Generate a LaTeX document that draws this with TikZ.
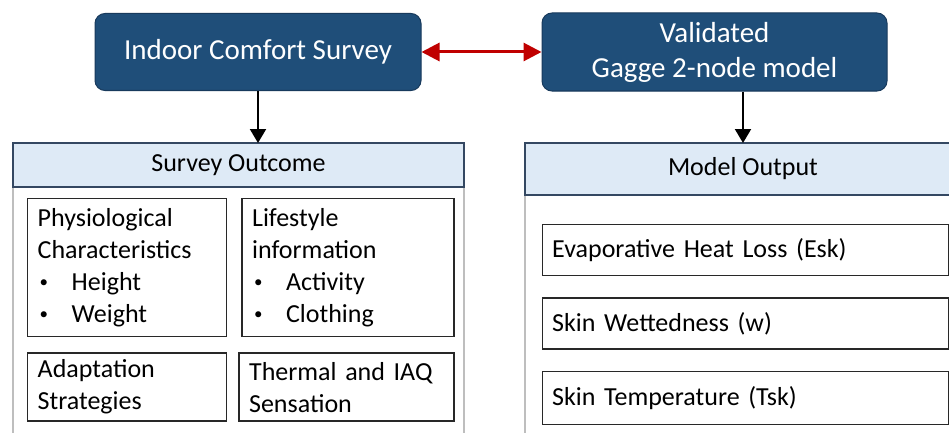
\documentclass[tikz,border=0pt]{standalone}
\usepackage{fontspec}
\setmainfont{Carlito}
\usetikzlibrary{positioning,arrows.meta}
\definecolor{SurveyNavy}{RGB}{31,78,121}
\definecolor{NavyEdge}{RGB}{24,58,92}
\definecolor{HeadBand}{RGB}{222,234,246}
\definecolor{HeadEdge}{RGB}{52,72,98}
\definecolor{PanelGray}{RGB}{190,190,190}
\definecolor{ItemEdge}{RGB}{40,40,40}
\definecolor{LinkRed}{RGB}{192,0,0}
\tikzset{
  flow/.style={-{Triangle[length=14pt,width=16pt]},line width=2pt,draw=black},
  biflow/.style={{Triangle[length=18pt,width=18pt]}-{Triangle[length=18pt,width=18pt]},
    line width=3pt,draw=LinkRed},
  navybox/.style={draw=NavyEdge,fill=SurveyNavy,rounded corners=10pt,line width=1pt,
    text=white,align=center,font=\fontsize{29}{35}\selectfont},
  headbox/.style={draw=HeadEdge,fill=HeadBand,line width=1.2pt,outer sep=0pt,
    align=center,font=\fontsize{26}{32}\selectfont},
  panel/.style={draw=PanelGray,fill=white,line width=1.3pt,outer sep=0pt},
  itembox/.style={draw=ItemEdge,line width=1.4pt,align=left,inner xsep=10pt,
    inner ysep=0pt,font=\fontsize{26}{32}\selectfont}
}
\newcommand{\itemdot}{\makebox[34pt][l]{\hspace{2pt}\raisebox{3pt}{\fontsize{17}{17}\selectfont\textbullet}}}

\begin{document}
\begin{tikzpicture}[x=1pt,y=1pt]
  \clip (0,0) rectangle (949,432);
  \fill[white] (0,0) rectangle (949,432);

  \node[navybox,minimum width=326pt,minimum height=77pt] (survey) at (258,380) {Indoor Comfort Survey};
  \node[navybox,minimum width=345pt,minimum height=78pt] (gagge) at (714.5,380) {Validated\\Gagge 2-node model};
  \draw[biflow] (survey) -- (gagge);

  % survey side
  \node[panel,minimum width=451pt,minimum height=260pt] (outpanel) at (238.5,115) {};
  \node[headbox,minimum width=451pt,minimum height=44pt,above=0pt of outpanel] (outhead) {Survey Outcome};
  \node[itembox,text width=179pt,minimum height=138pt,below right=11pt and 14pt of outpanel.north west] (physio)
    {Physiological\\Characteristics\\\itemdot Height\\\itemdot Weight};
  \node[itembox,text width=192pt,minimum height=138pt,right=14pt of physio] (lifestyle)
    {Lifestyle\\information\\\itemdot Activity\\\itemdot Clothing};
  \node[itembox,text width=179pt,minimum height=68pt,below=15pt of physio] (adapt)
    {Adaptation\\Strategies};
  \node[itembox,text width=195pt,minimum height=68pt,right=11pt of adapt] (thermal)
    {Thermal and IAQ\\Sensation};

  % model side
  \node[panel,minimum width=436pt,minimum height=260pt] (modpanel) at (743,107) {};
  \node[headbox,minimum width=436pt,minimum height=52pt,above=0pt of modpanel] (modhead) {Model Output};
  \node[itembox,text width=386pt,minimum height=51pt,below right=29pt and 16.5pt of modpanel.north west] (esk)
    {Evaporative Heat Loss (Esk)};
  \node[itembox,text width=386pt,minimum height=51pt,below=21pt of esk] (wet)
    {Skin Wettedness (w)};
  \node[itembox,text width=386pt,minimum height=53pt,below=21pt of wet] (tsk)
    {Skin Temperature (Tsk)};

  \draw[flow] (survey.south) -- (survey.south |- outhead.north);
  \draw[flow] (gagge.south -| modhead.north) -- (modhead.north);
\end{tikzpicture}
\end{document}
